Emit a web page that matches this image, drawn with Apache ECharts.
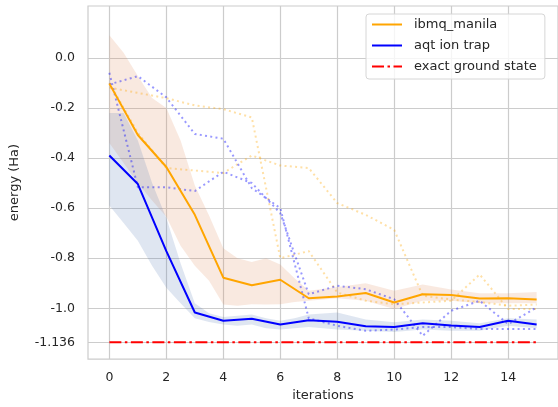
<!DOCTYPE html>
<html>
<head>
<meta charset="utf-8">
<script src="https://cdn.jsdelivr.net/npm/echarts@6/dist/echarts.min.js"></script>
<style>
  html, body { margin: 0; padding: 0; background: #fff; }
  #chart { width: 558px; height: 407px; }
</style>
</head>
<body>
<div id="chart"></div>
<script>
// iterations and mean energies
const iterations = [0, 1, 2, 3, 4, 5, 6, 7, 8, 9, 10, 11, 12, 13, 14, 15];
const ibmqMean = [-0.103, -0.308, -0.436, -0.627, -0.878, -0.908, -0.886, -0.960, -0.953, -0.939, -0.977, -0.944, -0.947, -0.961, -0.960, -0.965];
const aqtMean = [-0.390, -0.504, -0.772, -1.017, -1.050, -1.042, -1.065, -1.048, -1.054, -1.072, -1.075, -1.060, -1.069, -1.075, -1.050, -1.065];

// single runs (dotted)
const ibmqRun1 = [-0.119, -0.140, -0.161, -0.190, -0.205, -0.238, -0.800, -0.772, -0.937, -0.970, -0.984, -0.977, -0.970, -0.865, -1.003, -1.003];
const ibmqRun2 = [-0.100, -0.300, -0.440, -0.450, -0.460, -0.390, -0.430, -0.440, -0.580, -0.627, -0.687, -0.950, -0.965, -0.975, -0.990, -0.985];
const aqtRun1 = [-0.106, -0.073, -0.158, -0.304, -0.323, -0.520, -0.600, -1.040, -1.070, -1.090, -1.085, -1.075, -1.075, -1.083, -1.083, -1.083];
const aqtRun2 = [-0.060, -0.517, -0.517, -0.532, -0.455, -0.500, -0.620, -0.944, -0.910, -0.924, -0.964, -1.110, -1.010, -0.970, -1.063, -0.997];

// spread bands
const bandX = [0, 0.5, 1, 1.5, 2, 2.5, 3, 3.5, 4, 4.5, 5, 5.5, 6, 6.5, 7, 8, 9, 10, 11, 12, 13, 14, 15];
const ibmqUpper = [0.09, 0.02, -0.073, -0.16, -0.20, -0.33, -0.51, -0.63, -0.76, -0.80, -0.815, -0.80, -0.825, -0.88, -0.93, -0.915, -0.90, -0.93, -0.905, -0.925, -0.94, -0.94, -0.935];
const ibmqLower = [-0.34, -0.42, -0.50, -0.57, -0.635, -0.75, -0.83, -0.89, -0.985, -0.99, -0.984, -0.985, -0.984, -0.975, -0.97, -0.96, -0.97, -1.003, -0.97, -0.97, -0.98, -0.98, -0.98];
const aqtUpper = [-0.22, -0.22, -0.33, -0.50, -0.64, -0.82, -0.98, -1.02, -1.035, -1.03, -1.025, -1.04, -1.05, -1.04, -1.025, -1.017, -1.045, -1.056, -1.045, -1.05, -1.06, -1.04, -1.045];
const aqtLower = [-0.59, -0.66, -0.73, -0.83, -0.918, -0.98, -1.04, -1.055, -1.065, -1.07, -1.065, -1.08, -1.085, -1.08, -1.075, -1.085, -1.09, -1.095, -1.085, -1.09, -1.09, -1.07, -1.08];

const groundState = -1.136;
const xTicks = [0, 2, 4, 6, 8, 10, 12, 14];
const yTicks = [0, -0.2, -0.4, -0.6, -0.8, -1.0, -1.136];

const txt = '#262626';
const gridCol = '#cccccc';
const font = 'DejaVu Sans';

function pairs(xs, ys) {
    return xs.map((x, i) => [x, ys[i]]);
}

// filled band between lower and upper, drawn through the axes
function band(name, lower, upper, color) {
    return {
        type: 'custom', name: name, coordinateSystem: 'cartesian2d',
        data: [[bandX[0], lower[0]]], silent: true, z: 1,
        renderItem: (params, api) => {
            const top = bandX.map((x, i) => api.coord([x, upper[i]]));
            const bot = bandX.map((x, i) => api.coord([x, lower[i]])).reverse();
            return {
                type: 'polygon',
                shape: { points: top.concat(bot) },
                style: { fill: color }
            };
        }
    };
}

function dotted(name, ys, color) {
    return {
        type: 'line', name: name, data: pairs(iterations, ys), symbol: 'none',
        lineStyle: { color: color, width: 2, type: [2, 3.3] }, silent: true, z: 2
    };
}

var myChart = echarts.init(document.getElementById('chart'));
let option = {
    backgroundColor: '#fff',
    animation: false,
    grid: {
        left: 88, right: -5, top: 6, bottom: 45,
        show: true, borderColor: gridCol, borderWidth: 1.2
    },
    legend: {
        orient: 'vertical', left: 366, top: 14,
        data: [
            { name: 'ibmq_manila' },
            { name: 'aqt ion trap' },
            { name: 'exact ground state', lineStyle: { type: [12, 3.5, 2.5, 3.5] } }
        ],
        itemWidth: 30, itemHeight: 14, itemGap: 8,
        itemStyle: { opacity: 0 },
        padding: [4, 8, 6, 5],
        backgroundColor: 'rgba(255,255,255,0.8)',
        borderColor: '#d6d6d6', borderWidth: 1, borderRadius: 3,
        textStyle: { fontFamily: font, fontSize: 13, color: txt, padding: [0, 0, 0, 7] }
    },
    xAxis: {
        type: 'value', min: -0.75, max: 15.75,
        name: 'iterations', nameLocation: 'middle', nameGap: 29,
        nameTextStyle: { fontFamily: font, fontSize: 13, color: txt },
        axisLine: { show: false },
        axisTick: { show: false, customValues: xTicks },
        axisLabel: { customValues: xTicks, fontFamily: font, fontSize: 12.5, color: txt, margin: 12 },
        splitLine: { show: true, lineStyle: { color: gridCol, width: 1.2 } }
    },
    yAxis: {
        type: 'value', min: -1.203, max: 0.207,
        name: 'energy (Ha)', nameLocation: 'middle', nameGap: 67, nameRotate: 90,
        nameTextStyle: { fontFamily: font, fontSize: 13, color: txt },
        axisLine: { show: false },
        axisTick: { show: false, customValues: yTicks },
        axisLabel: {
            customValues: yTicks, fontFamily: font, fontSize: 12.5, color: txt, margin: 13,
            formatter: v => (Math.abs(v - groundState) < 1e-6 ? '-1.136' : v.toFixed(1))
        },
        splitLine: { show: true, lineStyle: { color: gridCol, width: 1.2 } }
    },
    series: [
        band('ibmq band', ibmqLower, ibmqUpper, 'rgba(221,132,82,0.18)'),
        band('aqt band', aqtLower, aqtUpper, 'rgba(76,114,176,0.18)'),
        dotted('ibmq run 1', ibmqRun1, 'rgba(255,165,0,0.35)'),
        dotted('ibmq run 2', ibmqRun2, 'rgba(255,165,0,0.35)'),
        dotted('aqt run 1', aqtRun1, 'rgba(0,0,255,0.4)'),
        dotted('aqt run 2', aqtRun2, 'rgba(0,0,255,0.4)'),
        {
            type: 'line', name: 'ibmq_manila', data: pairs(iterations, ibmqMean), symbol: 'none',
            itemStyle: { color: '#ffa500' }, lineStyle: { color: '#ffa500', width: 2 }, z: 3
        },
        {
            type: 'line', name: 'aqt ion trap', data: pairs(iterations, aqtMean), symbol: 'none',
            itemStyle: { color: '#0000ff' }, lineStyle: { color: '#0000ff', width: 2 }, z: 3
        },
        {
            type: 'line', name: 'exact ground state',
            data: pairs(iterations, iterations.map(() => groundState)), symbol: 'none',
            itemStyle: { color: '#ff0000' }, lineStyle: { color: '#ff0000', width: 2, type: [12, 3.5, 2.5, 3.5] }, z: 3
        }
    ]
};
myChart.setOption(option);
</script>
</body>
</html>
